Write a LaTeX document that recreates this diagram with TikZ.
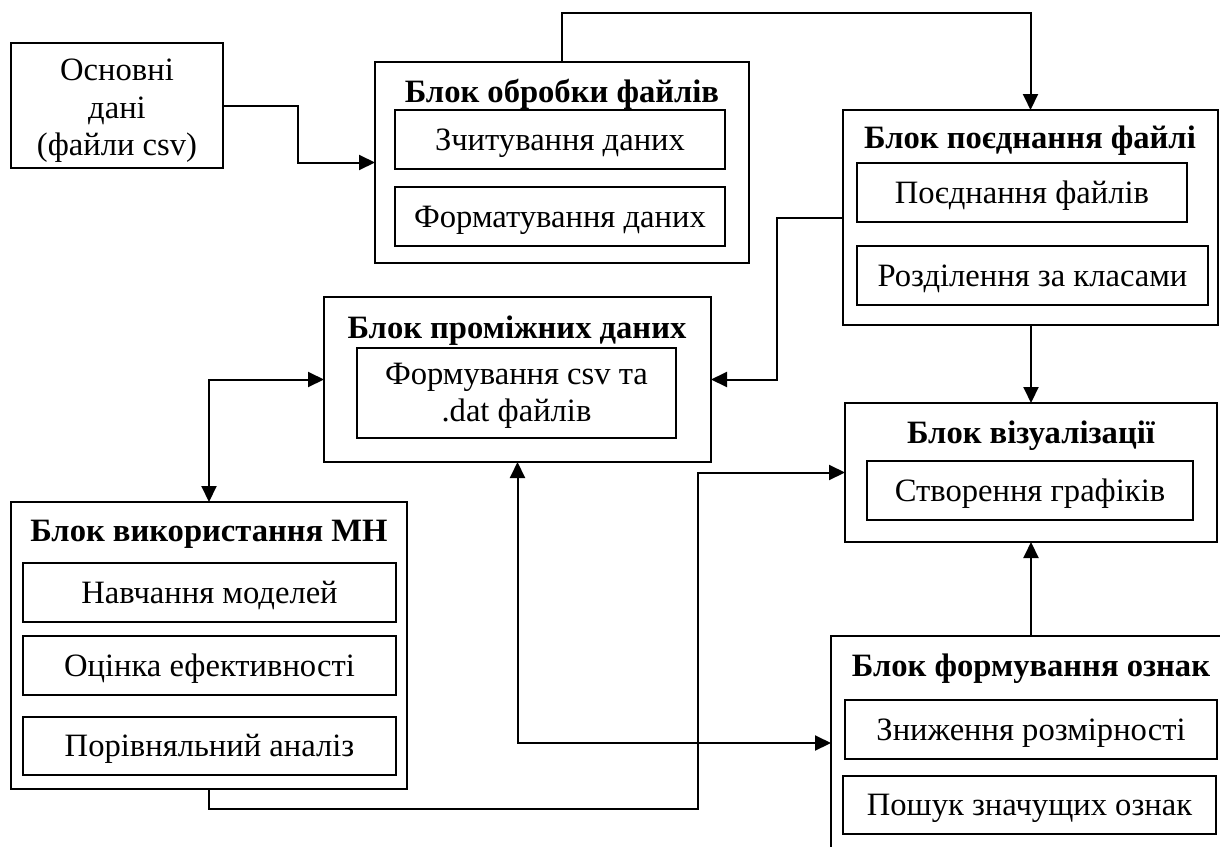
\documentclass[tikz,border=0pt]{standalone}
\usepackage{fontspec}
\setmainfont{Liberation Serif}
\usetikzlibrary{arrows.meta,calc}

\begin{document}
\begin{tikzpicture}[x=0.5pt,y=-0.5pt,
  every node/.style={font=\fontsize{16.3}{18.7}\selectfont, inner sep=0pt, outer sep=0pt},
  outerbox/.style={draw, line width=0.9pt, fill=white},
  innerbox/.style={draw, line width=0.9pt, minimum height=29.5pt, align=center,
    text height=12pt, text depth=1.5pt},
  twolines/.style={draw, line width=0.9pt, align=center},
  title/.style={font=\fontsize{16.3}{18.7}\selectfont\bfseries},
  link/.style={line width=1pt, -{Triangle[length=8pt,width=7.5pt]}},
  twoway/.style={line width=1pt, {Triangle[length=8pt,width=7.5pt]}-{Triangle[length=8pt,width=7.5pt]}}
]
\clip (0,0) rectangle (1220,846);
\fill[white] (0,0) rectangle (1220,846);

% source data
\node[outerbox, minimum width=106pt, minimum height=62.5pt] (src) at (117,105.5) {};
\node[align=center] (srct) at (117,111) {Основні\\дані\\(файли csv)};

% file processing block
\node[outerbox, minimum width=187pt, minimum height=100.5pt] (proc) at (562,162.5) {};
\node[title] (proct) at (562,94) {Блок обробки файлів};
\node[innerbox, minimum width=165pt] (read) at (560,139.5) {Зчитування даних};
\node[innerbox, minimum width=165pt] (fmt) at (560,216.5) {Форматування даних};

% file merging block
\node[outerbox, minimum width=187.5pt, minimum height=107.5pt] (merge) at (1030.5,217.5) {};
\node[title] (merget) at (1030,141) {Блок поєднання файлі};
\node[innerbox, minimum width=165pt] (mfiles) at (1022,192.5) {Поєднання файлів};
\node[innerbox, minimum width=175.5pt] (split) at (1032.5,275.5) {Розділення за класами};

% intermediate data block
\node[outerbox, minimum width=193.5pt, minimum height=82.5pt] (inter) at (517.5,379.5) {};
\node[title] (intert) at (517,331) {Блок проміжних даних};
\node[twolines, minimum width=159.5pt, minimum height=45pt] (csv) at (516.5,393) {};
\node[align=center] (csvt) at (516.5,396) {Формування csv та\\.dat файлів};

% neural network block
\node[outerbox, minimum width=198pt, minimum height=143.5pt] (ml) at (209,645.5) {};
\node[title] (mlt) at (209,534) {Блок використання МН};
\node[innerbox, minimum width=186.5pt] (train) at (209.5,592.5) {Навчання моделей};
\node[innerbox, minimum width=186.5pt] (eval) at (209.5,665.5) {Оцінка ефективності};
\node[innerbox, minimum width=186.5pt, minimum height=29pt] (cmp) at (209.5,746) {Порівняльний аналіз};

% visualisation block
\node[outerbox, minimum width=186pt, minimum height=69.5pt] (vis) at (1031,472.5) {};
\node[title] (vist) at (1031,436) {Блок візуалізації};
\node[innerbox, minimum width=163pt] (plots) at (1030,490.5) {Створення графіків};

% feature block
\node[outerbox, minimum width=204.5pt, minimum height=117pt] (feat) at (1035.5,753) {};
\node[title] (featt) at (1031,669) {Блок формування ознак};
\node[innerbox, minimum width=186pt] (dim) at (1031,729.5) {Зниження розмірності};
\node[innerbox, minimum width=186.5pt, minimum height=29pt] (search) at (1029.5,805) {Пошук значущих ознак};

% connectors
\draw[link] (src.east) -- (298,105.5) |- (proc.west);
\draw[link] (proc.north) -- (562,13) -| (merge.north);
\draw[link] (merge.west) -| (777,300) |- (inter.east);
\draw[link] (merge.south -| vis.north) -- (vis.north);
\draw[twoway] (inter.west) -| (ml.north);
\draw[twoway] (inter.south) |- (feat.west |- 0,743);
\draw[link] (ml.south) -- (209,809) -| (698,600) |- (vis.west);
\draw[link] (feat.north -| vis.south) -- (vis.south);
\end{tikzpicture}
\end{document}
